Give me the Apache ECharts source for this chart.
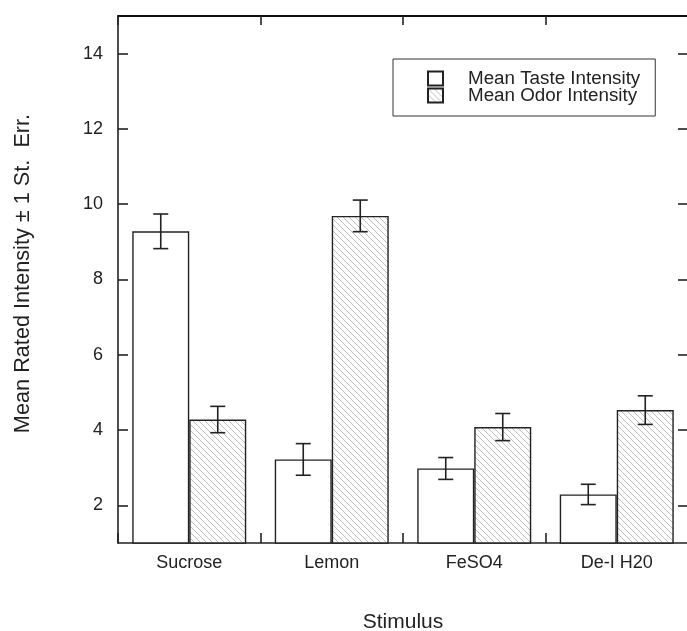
<!DOCTYPE html>
<html>
<head>
<meta charset="utf-8">
<script src="https://cdn.jsdelivr.net/npm/echarts@6/dist/echarts.min.js"></script>
<style>
html,body{margin:0;padding:0;background:#fff;}
#main{width:687px;height:631px;}
</style>
</head>
<body>
<div id="main"></div>
<script>
const categories = ['Sucrose', 'Lemon', 'FeSO4', 'De-I H20'];
const tasteMeans = [9.28, 3.22, 2.98, 2.29];
const tasteErr = [0.46, 0.42, 0.29, 0.27];
const odorMeans = [4.28, 9.69, 4.08, 4.53];
const odorErr = [0.35, 0.42, 0.36, 0.38];
const yTicks = [2, 4, 6, 8, 10, 12, 14];
const seriesNames = ['Mean Taste Intensity', 'Mean Odor Intensity'];

const FONT = '"Liberation Sans", Arial, Helvetica, sans-serif';
const INK = '#222';

function makeHatch() {
  const s = 6;
  const c = document.createElement('canvas');
  c.width = s; c.height = s;
  const ctx = c.getContext('2d');
  ctx.fillStyle = '#fff';
  ctx.fillRect(0, 0, s, s);
  ctx.strokeStyle = '#a2a2a2';
  ctx.lineWidth = 0.7;
  ctx.beginPath();
  for (const k of [-s, 0, s]) {
    ctx.moveTo(k - 1, -1);
    ctx.lineTo(k + s + 1, s + 1);
  }
  ctx.stroke();
  return c;
}
const hatch = makeHatch();

function errRender(offsetFrac) {
  return function (params, api) {
    const i = api.value(0), m = api.value(1), e = api.value(2);
    const band = api.size([1, 0])[0];
    const top = api.coord([i, m + e]);
    const bot = api.coord([i, m - e]);
    const x = top[0] + offsetFrac * band;
    const hw = 7.5;
    const st = { stroke: INK, lineWidth: 1.6 };
    return {
      type: 'group',
      children: [
        { type: 'line', shape: { x1: x, y1: top[1], x2: x, y2: bot[1] }, style: st },
        { type: 'line', shape: { x1: x - hw, y1: top[1], x2: x + hw, y2: top[1] }, style: st },
        { type: 'line', shape: { x1: x - hw, y1: bot[1], x2: x + hw, y2: bot[1] }, style: st }
      ]
    };
  };
}

const tasteErrData = categories.map((c, i) => [i, tasteMeans[i], tasteErr[i]]);
const odorErrData = categories.map((c, i) => [i, odorMeans[i], odorErr[i]]);

const axisLineStyle = { color: INK, width: 1.6 };

const chart = echarts.init(document.getElementById('main'), null, { renderer: 'canvas' });
chart.setOption({
  animation: false,
  backgroundColor: '#fff',
  textStyle: { fontFamily: FONT },
  grid: { left: 118, top: 16, width: 570, height: 527, containLabel: false, outerBoundsMode: 'none' },
  legend: {
    data: seriesNames,
    orient: 'vertical',
    left: 393,
    top: 59,
    padding: [10, 15, 11, 34],
    itemWidth: 15,
    itemHeight: 14,
    itemGap: -2,
    icon: 'rect',
    borderColor: '#333',
    borderWidth: 1,
    textStyle: { fontFamily: FONT, fontSize: 18.8, color: INK, padding: [0, 0, 0, 20] }
  },
  xAxis: [
    {
      type: 'category',
      data: categories,
      position: 'bottom',
      axisLine: { show: true, lineStyle: axisLineStyle },
      axisTick: { show: true, inside: true, length: 10, lineStyle: axisLineStyle },
      axisLabel: { fontFamily: FONT, fontSize: 18, color: INK, margin: 11 },
      name: 'Stimulus',
      nameLocation: 'middle',
      nameGap: 69,
      nameTextStyle: { fontFamily: FONT, fontSize: 21, color: INK }
    },
    {
      type: 'category',
      data: categories,
      position: 'top',
      axisLine: { show: true, lineStyle: { color: '#111', width: 2 } },
      axisTick: { show: true, inside: true, length: 9, lineStyle: axisLineStyle },
      axisLabel: { show: false }
    }
  ],
  yAxis: [
    {
      type: 'value',
      min: 1,
      max: 15,
      position: 'left',
      splitLine: { show: false },
      axisLine: { show: true, lineStyle: axisLineStyle },
      axisTick: { show: true, inside: true, length: 10, lineStyle: axisLineStyle, customValues: yTicks },
      axisLabel: { fontFamily: FONT, fontSize: 18, color: INK, margin: 15, customValues: yTicks },
      name: 'Mean Rated Intensity \u00B1 1 St.  Err.',
      nameLocation: 'middle',
      nameGap: 84,
      nameTextStyle: { fontFamily: FONT, fontSize: 21.7, color: INK, padding: [0, 0, 0, 12] }
    },
    {
      type: 'value',
      min: 1,
      max: 15,
      position: 'right',
      splitLine: { show: false },
      axisLine: { show: true, lineStyle: axisLineStyle },
      axisTick: { show: true, inside: true, length: 10, lineStyle: axisLineStyle, customValues: yTicks },
      axisLabel: { show: false, customValues: yTicks }
    }
  ],
  series: [
    {
      name: seriesNames[0],
      type: 'bar',
      data: tasteMeans,
      barGap: '0%',
      barCategoryGap: '20%',
      itemStyle: { color: '#fff', borderColor: INK, borderWidth: 1.4 }
    },
    {
      name: seriesNames[1],
      type: 'bar',
      data: odorMeans,
      barGap: '0%',
      barCategoryGap: '20%',
      itemStyle: { color: { image: hatch, repeat: 'repeat' }, borderColor: INK, borderWidth: 1.4 }
    },
    {
      type: 'custom',
      name: 'tasteErr',
      data: tasteErrData,
      encode: { x: 0, y: 1 },
      renderItem: errRender(-0.2),
      z: 10
    },
    {
      type: 'custom',
      name: 'odorErr',
      data: odorErrData,
      encode: { x: 0, y: 1 },
      renderItem: errRender(0.2),
      z: 10
    }
  ]
});
</script>
</body>
</html>
